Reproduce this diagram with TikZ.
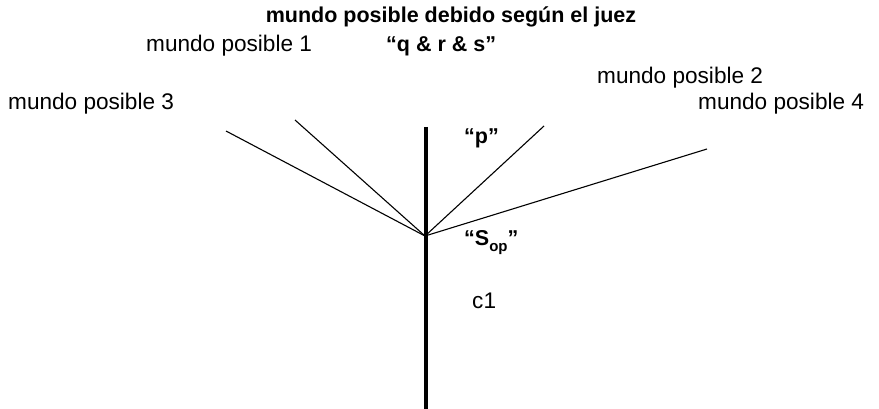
\documentclass[tikz,border=0pt]{standalone}
\usepackage{fontspec}
\setmainfont{Liberation Sans}
\begin{document}
\begin{tikzpicture}[x=1pt,y=-1pt,
  lbl/.style={inner sep=0pt,anchor=base west,font=\fontsize{22.6}{26}\selectfont},
  blbl/.style={inner sep=0pt,anchor=base west,font=\fontsize{21.5}{26}\selectfont\bfseries},
  branch/.style={line width=1.1pt},
  trunk/.style={line width=4pt}]
\useasboundingbox (0,0) rectangle (879,409);
\node[blbl,anchor=base] (title) at (451,23) {mundo posible debido según el juez};
\node[lbl] (mp1) at (146,52) {mundo posible 1};
\node[blbl] (qrs) at (386,52) {“q \& r \& s”};
\node[lbl] (mp2) at (597,84) {mundo posible 2};
\node[lbl] (mp3) at (8,110) {mundo posible 3};
\node[lbl] (mp4) at (698,110) {mundo posible 4};
\node[blbl] (p) at (464,144) {“p”};
\node[blbl] (sop) at (464,246) {“S\raisebox{-0.45ex}{\fontsize{15}{18}\selectfont op}”};
\node[lbl] (c1) at (472,308) {c1};
\coordinate (top) at (426,127);
\coordinate (bot) at (426,409);
\coordinate (o) at (425,236);
\coordinate (e3) at (226,131);
\coordinate (e1) at (295,120);
\coordinate (e2) at (544,126);
\coordinate (e4) at (707,149);
\draw[trunk] (top) -- (bot);
\draw[branch] (o) -- (e3);
\draw[branch] (o) -- (e1);
\draw[branch] (o) -- (e2);
\draw[branch] (o) -- (e4);
\end{tikzpicture}
\end{document}
